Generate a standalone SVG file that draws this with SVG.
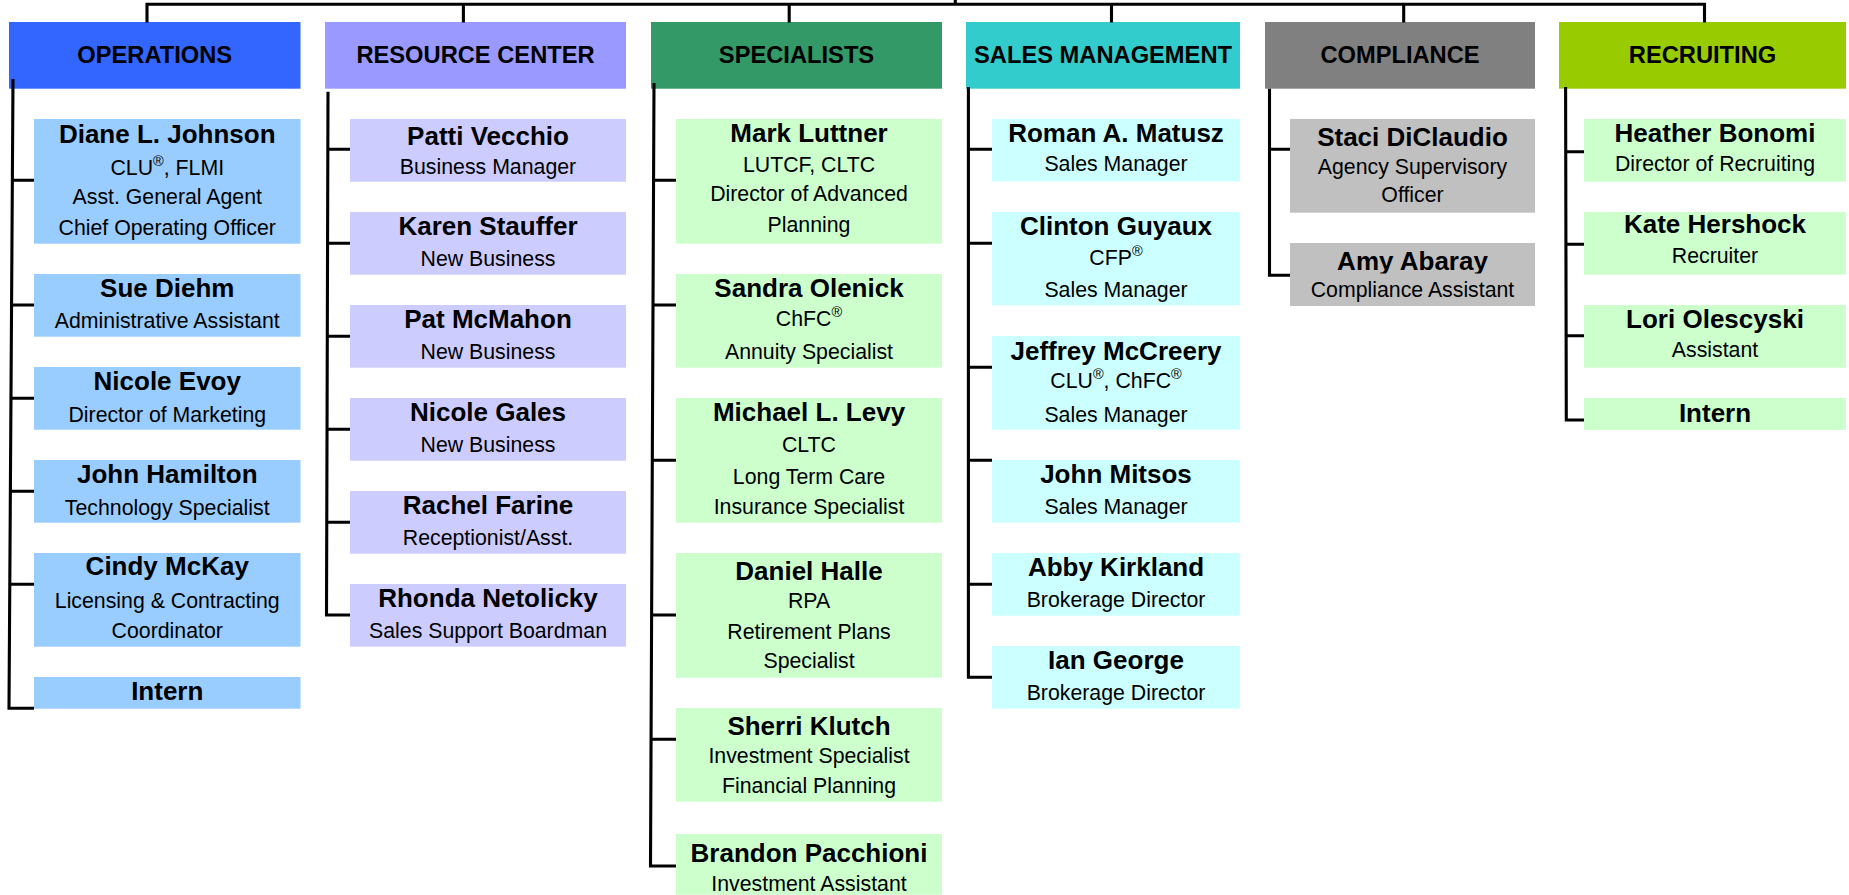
<svg xmlns="http://www.w3.org/2000/svg" width="1849" height="895" viewBox="0 0 1849 895">
<style>
text{font-family:"Liberation Sans",Arial,Helvetica,sans-serif;fill:#000;text-anchor:middle}
.h{font-size:23.7px;font-weight:bold}
.n{font-size:26px;font-weight:bold}
.s{font-size:21.3px}
.sup{font-size:14.5px}
.ln{stroke:#000;stroke-width:3.1;fill:none;stroke-linejoin:miter}
.c1h{fill:#3366FF}.c1{fill:#99CCFF}
.c2h{fill:#9999FF}.c2{fill:#CCCCFF}
.c3h{fill:#339966}.c3{fill:#CCFFCC}
.c4h{fill:#33CCCC}.c4{fill:#CCFFFF}
.c5h{fill:#808080}.c5{fill:#C0C0C0}
.c6h{fill:#99CC00}.c6{fill:#CCFFCC}
</style>
<rect x="0" y="0" width="1849" height="895" fill="#fff"/>

<!-- headers -->
<g id="operations"><rect class="c1h" x="9" y="22" width="291.5" height="66.7"/><text class="h" x="154.75" y="63">OPERATIONS</text></g>
<g id="resource-center"><rect class="c2h" x="325" y="22" width="301" height="66.7"/><text class="h" x="475.5" y="63">RESOURCE CENTER</text></g>
<g id="specialists"><rect class="c3h" x="651" y="22" width="291" height="66.7"/><text class="h" x="796.5" y="63">SPECIALISTS</text></g>
<g id="sales-management"><rect class="c4h" x="966" y="22" width="274" height="66.7"/><text class="h" x="1103" y="63">SALES MANAGEMENT</text></g>
<g id="compliance"><rect class="c5h" x="1265" y="22" width="270" height="66.7"/><text class="h" x="1400" y="63">COMPLIANCE</text></g>
<g id="recruiting"><rect class="c6h" x="1559" y="22" width="287" height="66.7"/><text class="h" x="1702.5" y="63">RECRUITING</text></g>

<!-- connectors -->
<g id="connectors" class="ln">
<path d="M955.3,0 V4.2 M145.5,4.2 H1706 M147,3 V22.5 M463.4,4.2 V22.5 M789.2,4.2 V22.5 M1111.5,4.2 V22.5 M1403.7,4.2 V22.5 M1704.5,3 V22.5"/>
<path d="M13,79 L9,708.3 H34 M11.1,180.3 H34 M10.3,305 H34 M9.7,398.3 H34 M9.1,491.3 H34 M8.5,584.3 H34"/>
<path d="M328,91.7 L326.5,615 H350 M326.6,149.3 H350 M326.4,243.3 H350 M326.1,336.3 H350 M325.9,429.3 H350 M325.6,522.3 H350"/>
<path d="M654,83 L650.5,866 H676 M652.4,180.3 H676 M652.2,305 H676 M651.5,460.3 H676 M650.8,615 H676 M650.6,739.3 H676"/>
<path d="M968.4,87 V677.3 H992 M967,149.3 H992 M967,243.3 H992 M967,367.3 H992 M967,460.3 H992 M967,584.3 H992"/>
<path d="M1269.5,88.7 V275.3 H1290 M1268.2,149.3 H1290"/>
<path d="M1565.6,87 L1566.3,420 H1584 M1564.4,151.7 H1584 M1564.6,244.3 H1584 M1564.8,335.7 H1584"/>
</g>

<!-- OPERATIONS children -->
<g id="diane-johnson"><rect class="c1" x="34" y="119" width="266.5" height="124.7"/>
<text class="n" x="167.25" y="143">Diane L. Johnson</text>
<text class="s" x="167.25" y="175">CLU<tspan class="sup" dy="-9">®</tspan><tspan dy="9">, FLMI</tspan></text>
<text class="s" x="167.25" y="204">Asst. General Agent</text>
<text class="s" x="167.25" y="235">Chief Operating Officer</text></g>
<g id="sue-diehm"><rect class="c1" x="34" y="274" width="266.5" height="62.7"/>
<text class="n" x="167.25" y="296.7">Sue Diehm</text><text class="s" x="167.25" y="328.3">Administrative Assistant</text></g>
<g id="nicole-evoy"><rect class="c1" x="34" y="367" width="266.5" height="62.7"/>
<text class="n" x="167.25" y="390">Nicole Evoy</text><text class="s" x="167.25" y="421.7">Director of Marketing</text></g>
<g id="john-hamilton"><rect class="c1" x="34" y="460" width="266.5" height="62.7"/>
<text class="n" x="167.25" y="483.3">John Hamilton</text><text class="s" x="167.25" y="515">Technology Specialist</text></g>
<g id="cindy-mckay"><rect class="c1" x="34" y="553" width="266.5" height="93.7"/>
<text class="n" x="167.25" y="575">Cindy McKay</text><text class="s" x="167.25" y="608.3">Licensing &amp; Contracting</text><text class="s" x="167.25" y="638.3">Coordinator</text></g>
<g id="ops-intern"><rect class="c1" x="34" y="677" width="266.5" height="31.7"/>
<text class="n" x="167.25" y="700">Intern</text></g>

<!-- RESOURCE CENTER children -->
<g id="patti-vecchio"><rect class="c2" x="350" y="119" width="276" height="62.7"/>
<text class="n" x="488" y="145">Patti Vecchio</text><text class="s" x="488" y="174">Business Manager</text></g>
<g id="karen-stauffer"><rect class="c2" x="350" y="212" width="276" height="62.7"/>
<text class="n" x="488" y="235">Karen Stauffer</text><text class="s" x="488" y="265.7">New Business</text></g>
<g id="pat-mcmahon"><rect class="c2" x="350" y="305" width="276" height="62.7"/>
<text class="n" x="488" y="328.3">Pat McMahon</text><text class="s" x="488" y="359.3">New Business</text></g>
<g id="nicole-gales"><rect class="c2" x="350" y="398" width="276" height="62.7"/>
<text class="n" x="488" y="421.3">Nicole Gales</text><text class="s" x="488" y="452.3">New Business</text></g>
<g id="rachel-farine"><rect class="c2" x="350" y="491" width="276" height="62.7"/>
<text class="n" x="488" y="514.3">Rachel Farine</text><text class="s" x="488" y="545.3">Receptionist/Asst.</text></g>
<g id="rhonda-netolicky"><rect class="c2" x="350" y="584" width="276" height="62.7"/>
<text class="n" x="488" y="607.3">Rhonda Netolicky</text><text class="s" x="488" y="638.3">Sales Support Boardman</text></g>

<!-- SPECIALISTS children -->
<g id="mark-luttner"><rect class="c3" x="676" y="119" width="266" height="124.7"/>
<text class="n" x="809" y="141.7">Mark Luttner</text><text class="s" x="809" y="172.3">LUTCF, CLTC</text><text class="s" x="809" y="201">Director of Advanced</text><text class="s" x="809" y="231.7">Planning</text></g>
<g id="sandra-olenick"><rect class="c3" x="676" y="274" width="266" height="93.7"/>
<text class="n" x="809" y="297">Sandra Olenick</text><text class="s" x="809" y="326">ChFC<tspan class="sup" dy="-9">®</tspan></text><text class="s" x="809" y="359.3">Annuity Specialist</text></g>
<g id="michael-levy"><rect class="c3" x="676" y="398" width="266" height="124.7"/>
<text class="n" x="809" y="421.3">Michael L. Levy</text><text class="s" x="809" y="452">CLTC</text><text class="s" x="809" y="484">Long Term Care</text><text class="s" x="809" y="514">Insurance Specialist</text></g>
<g id="daniel-halle"><rect class="c3" x="676" y="553" width="266" height="124.7"/>
<text class="n" x="809" y="580">Daniel Halle</text><text class="s" x="809" y="608.3">RPA</text><text class="s" x="809" y="639">Retirement Plans</text><text class="s" x="809" y="668.3">Specialist</text></g>
<g id="sherri-klutch"><rect class="c3" x="676" y="708" width="266" height="93.7"/>
<text class="n" x="809" y="735">Sherri Klutch</text><text class="s" x="809" y="762.7">Investment Specialist</text><text class="s" x="809" y="793.3">Financial Planning</text></g>
<g id="brandon-pacchioni"><rect class="c3" x="676" y="834" width="266" height="60.7"/>
<text class="n" x="809" y="861.7">Brandon Pacchioni</text><text class="s" x="809" y="890.7">Investment Assistant</text></g>

<!-- SALES MANAGEMENT children -->
<g id="roman-matusz"><rect class="c4" x="992" y="119" width="248" height="62.3"/>
<text class="n" x="1116" y="141.7">Roman A. Matusz</text><text class="s" x="1116" y="171">Sales Manager</text></g>
<g id="clinton-guyaux"><rect class="c4" x="992" y="212" width="248" height="93.3"/>
<text class="n" x="1116" y="234.7">Clinton Guyaux</text><text class="s" x="1116" y="265">CFP<tspan class="sup" dy="-9">®</tspan></text><text class="s" x="1116" y="296.7">Sales Manager</text></g>
<g id="jeffrey-mccreery"><rect class="c4" x="992" y="336" width="248" height="93.7"/>
<text class="n" x="1116" y="360">Jeffrey McCreery</text><text class="s" x="1116" y="388.3">CLU<tspan class="sup" dy="-9">®</tspan><tspan dy="9">, ChFC</tspan><tspan class="sup" dy="-9">®</tspan></text><text class="s" x="1116" y="421.7">Sales Manager</text></g>
<g id="john-mitsos"><rect class="c4" x="992" y="460" width="248" height="62.7"/>
<text class="n" x="1116" y="483.3">John Mitsos</text><text class="s" x="1116" y="514.3">Sales Manager</text></g>
<g id="abby-kirkland"><rect class="c4" x="992" y="553" width="248" height="62.7"/>
<text class="n" x="1116" y="576.3">Abby Kirkland</text><text class="s" x="1116" y="607.3">Brokerage Director</text></g>
<g id="ian-george"><rect class="c4" x="992" y="646" width="248" height="62.7"/>
<text class="n" x="1116" y="669.3">Ian George</text><text class="s" x="1116" y="700.3">Brokerage Director</text></g>

<!-- COMPLIANCE children -->
<g id="staci-diclaudio"><rect class="c5" x="1290" y="119" width="245" height="93.7"/>
<text class="n" x="1412.5" y="145.7">Staci DiClaudio</text><text class="s" x="1412.5" y="174">Agency Supervisory</text><text class="s" x="1412.5" y="201.7">Officer</text></g>
<g id="amy-abaray"><rect class="c5" x="1290" y="243" width="245" height="63"/>
<text class="n" x="1412.5" y="270">Amy Abaray</text><rect class="c5" x="1290" y="273.5" width="245" height="30"/><text class="s" x="1412.5" y="296.7">Compliance Assistant</text></g>

<!-- RECRUITING children -->
<g id="heather-bonomi"><rect class="c6" x="1584" y="119" width="262" height="62.7"/>
<text class="n" x="1715" y="141.7">Heather Bonomi</text><text class="s" x="1715" y="171">Director of Recruiting</text></g>
<g id="kate-hershock"><rect class="c6" x="1584" y="212" width="262" height="62.7"/>
<text class="n" x="1715" y="233.3">Kate Hershock</text><text class="s" x="1715" y="263.3">Recruiter</text></g>
<g id="lori-olescyski"><rect class="c6" x="1584" y="305" width="262" height="62.7"/>
<text class="n" x="1715" y="328.3">Lori Olescyski</text><text class="s" x="1715" y="356.7">Assistant</text></g>
<g id="rec-intern"><rect class="c6" x="1584" y="398" width="262" height="32"/>
<text class="n" x="1715" y="421.7">Intern</text></g>
</svg>
